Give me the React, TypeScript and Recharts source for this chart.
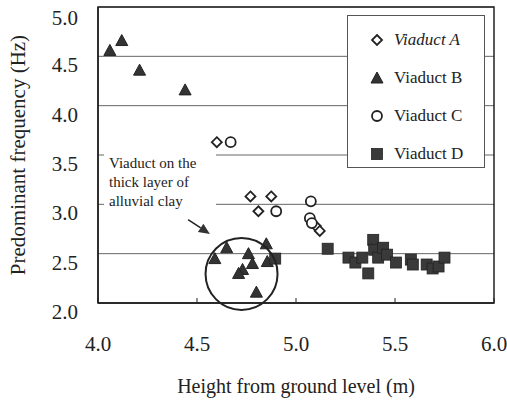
import React from 'react'
import {
  ScatterChart,
  Scatter,
  XAxis,
  YAxis,
  CartesianGrid,
  ReferenceArea,
  ReferenceDot,
  ReferenceLine,
} from 'recharts'

type Pt = { x: number; y: number }

// Viaduct A (open diamonds)
const viaductA: Pt[] = [
  { x: 4.6, y: 3.63 },
  { x: 4.77, y: 3.08 },
  { x: 4.875, y: 3.08 },
  { x: 4.81, y: 2.93 },
  { x: 5.1, y: 2.78 },
  { x: 5.12, y: 2.73 },
]

// Viaduct B (filled triangles)
const viaductB: Pt[] = [
  { x: 4.06, y: 4.56 },
  { x: 4.12, y: 4.66 },
  { x: 4.21, y: 4.36 },
  { x: 4.44, y: 4.16 },
  { x: 4.59, y: 2.45 },
  { x: 4.65, y: 2.56 },
  { x: 4.73, y: 2.34 },
  { x: 4.71, y: 2.3 },
  { x: 4.76, y: 2.5 },
  { x: 4.78, y: 2.4 },
  { x: 4.85, y: 2.6 },
  { x: 4.855, y: 2.42 },
  { x: 4.8, y: 2.11 },
]

// Viaduct C (open circles)
const viaductC: Pt[] = [
  { x: 4.67, y: 3.63 },
  { x: 4.9, y: 2.93 },
  { x: 5.075, y: 3.03 },
  { x: 5.07, y: 2.86 },
  { x: 5.08, y: 2.81 },
]

// Viaduct D (filled squares)
const viaductD: Pt[] = [
  { x: 4.895, y: 2.45 },
  { x: 5.16, y: 2.55 },
  { x: 5.265, y: 2.46 },
  { x: 5.3, y: 2.41 },
  { x: 5.335, y: 2.46 },
  { x: 5.365, y: 2.3 },
  { x: 5.39, y: 2.64 },
  { x: 5.395, y: 2.54 },
  { x: 5.415, y: 2.46 },
  { x: 5.44, y: 2.56 },
  { x: 5.46, y: 2.49 },
  { x: 5.505, y: 2.41 },
  { x: 5.58, y: 2.44 },
  { x: 5.59, y: 2.39 },
  { x: 5.66, y: 2.39 },
  { x: 5.69, y: 2.35 },
  { x: 5.72, y: 2.37 },
  { x: 5.75, y: 2.46 },
]

const xTicks = [4.0, 4.5, 5.0, 5.5, 6.0]
const yTicks = [2.0, 2.5, 3.0, 3.5, 4.0, 4.5, 5.0]

// annotation: circle round the clay-layer group and the arrow pointing at it
const clayCircle = { x: 4.725, y: 2.295 }
const arrowSeg = [
  { x: 4.455, y: 2.845 },
  { x: 4.565, y: 2.7 },
]

const INK = '#222'
const FONT = '"Liberation Serif", "DejaVu Serif", serif'

const Diamond = ({ cx, cy }: any) => (
  <path d={`M${cx},${cy - 5} L${cx + 5},${cy} L${cx},${cy + 5} L${cx - 5},${cy} Z`} fill="#fff" stroke={INK} strokeWidth={1.8} />
)
const Triangle = ({ cx, cy }: any) => (
  <path d={`M${cx},${cy - 6} L${cx + 6},${cy + 5} L${cx - 6},${cy + 5} Z`} fill="#333" stroke={INK} strokeWidth={1} />
)
const Circle = ({ cx, cy }: any) => <circle cx={cx} cy={cy} r={5} fill="#fff" stroke={INK} strokeWidth={1.8} />
const Square = ({ cx, cy }: any) => <rect x={cx - 5.5} y={cy - 5.5} width={11} height={11} fill="#3a3a3a" stroke={INK} strokeWidth={0.8} />

const XTick = ({ x, y, payload }: any) => (
  <g>
    <line x1={x} x2={x} y1={y} y2={y - 5} stroke={INK} />
    <text x={x} y={y + 48} textAnchor="middle" fontSize={21} fill={INK} fontFamily={FONT}>
      {payload.value.toFixed(1)}
    </text>
  </g>
)

const YTick = ({ x, y, payload }: any) => (
  <text x={x - 20} y={y + 16} textAnchor="end" fontSize={21} fill={INK} fontFamily={FONT}>
    {payload.value.toFixed(1)}
  </text>
)

const Arrow = (props: any) => {
  const { x1, y1, x2, y2 } = props
  const ang = Math.atan2(y2 - y1, x2 - x1)
  const L = 11
  const W = 5
  const bx = x2 - L * Math.cos(ang)
  const by = y2 - L * Math.sin(ang)
  const px = -Math.sin(ang) * W
  const py = Math.cos(ang) * W
  return (
    <g>
      <line x1={x1} y1={y1} x2={bx} y2={by} stroke={INK} strokeWidth={1.5} />
      <path d={`M${x2},${y2} L${bx + px},${by + py} L${bx - px},${by - py} Z`} fill="#333" />
    </g>
  )
}

const legendItems = [
  { name: 'Viaduct A', Shape: Diamond, italic: true },
  { name: 'Viaduct B', Shape: Triangle, italic: false },
  { name: 'Viaduct C', Shape: Circle, italic: false },
  { name: 'Viaduct D', Shape: Square, italic: false },
]

const LegendBox = () => (
  <div
    style={{
      position: 'absolute',
      left: 347,
      top: 15,
      width: 138,
      height: 153,
      boxSizing: 'border-box',
      border: '1px solid #555',
      background: '#fff',
      paddingTop: 5,
      fontFamily: FONT,
      fontSize: 17,
      color: INK,
    }}
  >
    {legendItems.map(({ name, Shape, italic }) => (
      <div key={name} style={{ display: 'flex', alignItems: 'center', height: 38 }}>
        <svg width={46} height={16} style={{ flex: 'none' }}>
          <Shape cx={29} cy={8} />
        </svg>
        <span style={{ fontStyle: italic ? 'italic' : 'normal' }}>{name}</span>
      </div>
    ))}
  </div>
)

export default function App() {
  return (
    <div style={{ position: 'absolute', left: 0, top: 0, width: 507, height: 401, background: '#fff' }}>
      <ScatterChart width={507} height={401} margin={{ top: 7, right: 13, bottom: 0, left: 0 }}>
        <CartesianGrid vertical={false} stroke="#666" strokeWidth={1} />
        <XAxis
          dataKey="x"
          type="number"
          domain={[4, 6]}
          ticks={xTicks}
          tickSize={0}
          tickMargin={0}
          tick={<XTick />}
          axisLine={{ stroke: INK, strokeWidth: 1.5 }}
          height={98}
          label={{ value: 'Height from ground level (m)', position: 'insideBottom', offset: 8, fontSize: 20, fill: INK, fontFamily: FONT }}
        />
        <YAxis
          dataKey="y"
          type="number"
          domain={[2, 5]}
          ticks={yTicks}
          tickSize={0}
          tickMargin={0}
          tick={<YTick />}
          axisLine={{ stroke: INK, strokeWidth: 1.5 }}
          width={98}
          label={{ value: 'Predominant frequency (Hz)', angle: -90, position: 'insideLeft', offset: 18, fontSize: 21, fill: INK, fontFamily: FONT, style: { textAnchor: 'middle' } }}
        />
        <ReferenceArea x1={4} x2={6} y1={2} y2={5} fill="none" stroke={INK} strokeWidth={1.5} />
        <Scatter name="Viaduct A" data={viaductA} shape={<Diamond />} isAnimationActive={false} />
        <Scatter name="Viaduct B" data={viaductB} shape={<Triangle />} isAnimationActive={false} />
        <Scatter name="Viaduct C" data={viaductC} shape={<Circle />} isAnimationActive={false} />
        <Scatter name="Viaduct D" data={viaductD} shape={<Square />} isAnimationActive={false} />
        <ReferenceDot x={clayCircle.x} y={clayCircle.y} r={36} fill="none" stroke={INK} strokeWidth={2} ifOverflow="visible" />
        <ReferenceLine segment={arrowSeg} shape={<Arrow />} ifOverflow="visible" />
      </ScatterChart>
      <LegendBox />
      <div
        style={{
          position: 'absolute',
          left: 104,
          top: 150,
          width: 112,
          height: 62,
          background: '#fff',
          fontFamily: FONT,
          fontSize: 15,
          lineHeight: '19px',
          color: INK,
          paddingLeft: 5,
          paddingTop: 4,
          boxSizing: 'border-box',
        }}
      >
        Viaduct on the
        <br />
        thick layer of
        <br />
        alluvial clay
      </div>
    </div>
  )
}
